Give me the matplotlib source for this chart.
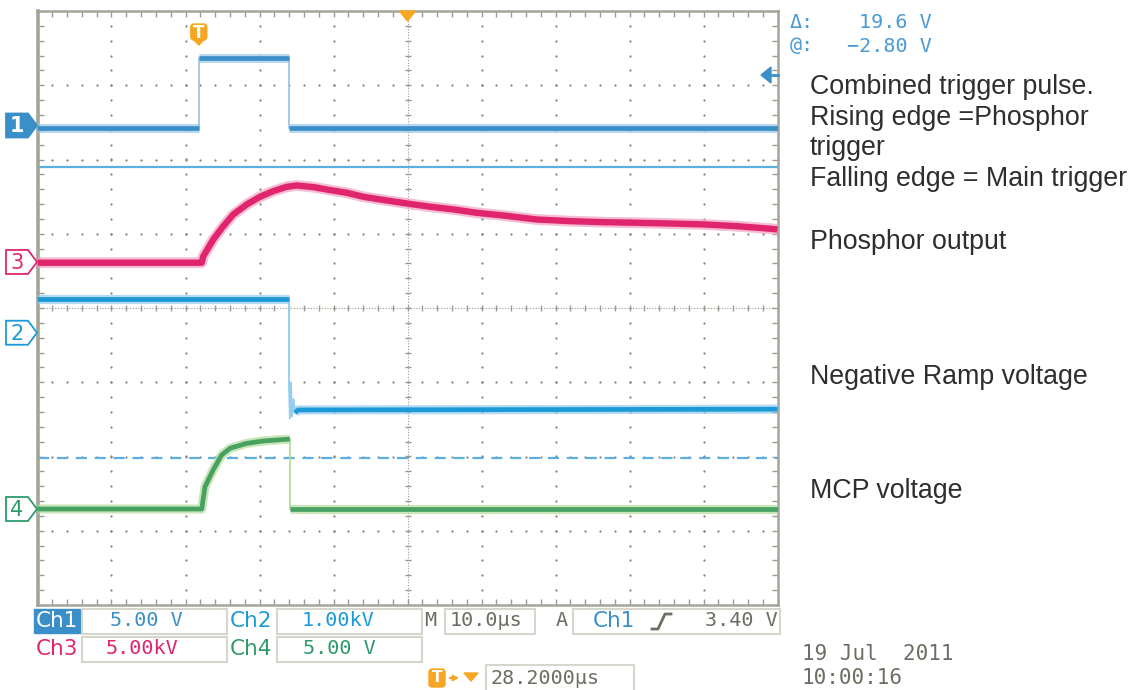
import numpy as np
import matplotlib
matplotlib.use("Agg")
import matplotlib.pyplot as plt
from matplotlib.patches import Polygon, Rectangle, FancyBboxPatch
from matplotlib.ticker import FixedLocator

# ---------------- acquisition settings ----------------
time_per_div = 10.0          # us / div
delay_us = 28.2              # trigger -> screen centre
trigger_level_v = 3.40       # Ch1 trigger level
cursor_delta_v = 19.6
cursor_at_v = -2.80

# channel scales (units per div) and ground positions (div from centre)
ch_scale = {"1": 5.0, "2": 1.0, "3": 5.0, "4": 5.0}
ch_pos = {"1": 2.458, "2": -0.333, "3": 0.620, "4": -2.707}

# ---------------- traces ----------------
# Ch1: combined trigger pulse (V)
ch1_t = [-21.8, 0.0, 0.0, 12.2, 12.2, 78.2]
ch1_v = [-0.2, -0.2, 4.52, 4.52, -0.2, -0.2]

# Ch2: negative ramp voltage (kV)
ch2_t = [-21.8, 12.2, 12.2, 12.3, 12.45, 12.6, 12.8, 13.0, 13.4, 78.2]
ch2_v = [0.45, 0.45, -0.75, -1.15, -0.68, -1.12, -0.90, -1.08, -1.04, -1.03]

# Ch3: phosphor output (kV)
ch3_t = [-21.8, 0.39, 0.61, 1.96, 3.31, 4.66, 6.47, 8.27, 10.06, 11.88, 13.23,
         15.47, 17.73, 19.98, 22.23, 24.48, 28.09, 31.24, 34.39, 37.55, 41.15,
         45.66, 50.16, 54.66, 59.17, 63.66, 68.17, 72.69, 77.19, 78.2]
ch3_v = [-0.05, -0.05, 0.39, 1.52, 2.41, 3.20, 3.87, 4.39, 4.77, 5.06, 5.15,
         5.04, 4.84, 4.66, 4.39, 4.21, 3.94, 3.72, 3.54, 3.31, 3.13,
         2.86, 2.75, 2.68, 2.64, 2.59, 2.53, 2.41, 2.24, 2.19]

# Ch4: MCP voltage (V)
ch4_t = [-21.8, 0.39, 0.84, 1.96, 3.09, 4.22, 6.47, 8.71, 12.3, 12.3, 78.2]
ch4_v = [0.0, 0.0, 1.50, 2.65, 3.64, 4.09, 4.42, 4.58, 4.71, 0.0, 0.0]

notes = [
    ("Combined trigger pulse.", 94),
    ("Rising edge =Phosphor", 125),
    ("trigger", 155),
    ("Falling edge = Main trigger", 186),
    ("Phosphor output", 249),
    ("Negative Ramp voltage", 384),
    ("MCP voltage", 498),
]

# ---------------- colours ----------------
C1, C1H = "#3b8fc8", "#9cc6e6"
C2, C2H = "#1c9ad8", "#92cdee"
C3, C3H = "#e0256e", "#f2a3c2"
C4, C4H = "#47a262", "#b4dc9c"
C4T = "#2e9a6c"
GRID = "#85857b"
UI = "#6d6d62"
CUR = "#5aaee0"
ORANGE = "#f6a623"

W, H = 1133, 690
fig = plt.figure(figsize=(W / 100, H / 100), dpi=100)

# screen geometry (pixels)
L, R, T, B = 37.5, 777.5, 11.0, 605.0
PX_US = (R - L) / (10 * time_per_div)
PX_DIV = (B - T) / 8.0
x0 = delay_us - 5 * time_per_div
x1 = delay_us + 5 * time_per_div

ax = fig.add_axes([L / W, 1 - B / H, (R - L) / W, (B - T) / H])
ax.set_xlim(x0, x1)
ax.set_ylim(-4, 4)
for s in ax.spines.values():
    s.set_color("#a4a498")
    s.set_linewidth(1.8)
ax.spines["left"].set_linewidth(2.6)
ax.xaxis.set_major_locator(FixedLocator(x0 + np.arange(0, 11) * time_per_div))
ax.xaxis.set_minor_locator(FixedLocator(x0 + np.arange(0, 50.5) * time_per_div / 5))
ax.yaxis.set_major_locator(FixedLocator(np.arange(-4, 5)))
ax.yaxis.set_minor_locator(FixedLocator(np.arange(-4, 4.01, 0.2)))
ax.tick_params(which="both", direction="in", top=True, right=True, length=4,
               width=1, color="#9a9a90", labelbottom=False, labelleft=False)

# graticule dots
gy = np.arange(-4, 4.01, 0.2)[1:-1]
gx = x0 + np.arange(0, 10.01, 0.2)[1:-1] * time_per_div
for i in range(1, 10):
    if i == 5:
        continue
    ax.scatter(np.full_like(gy, x0 + i * time_per_div), gy, s=2.6, color=GRID, lw=0, zorder=1)
for j in range(-3, 4):
    if j == 0:
        continue
    ax.scatter(gx, np.full_like(gx, j), s=2.6, color=GRID, lw=0, zorder=1)
# centre cross
ax.axvline(delay_us, color="#9a9a90", lw=0.8, ls=(0, (1, 1.5)), zorder=1)
ax.axhline(0, color="#9a9a90", lw=0.8, ls=(0, (1, 1.5)), zorder=1)
ax.plot(np.full_like(gy, delay_us), gy, ls="none", marker="_", ms=5, mew=1, color="#9a9a90", zorder=1)
ax.plot(gx, np.zeros_like(gx), ls="none", marker="|", ms=5, mew=1, color="#9a9a90", zorder=1)

# cursors (Ch1 units)
cur_a = ch_pos["1"] + cursor_at_v / ch_scale["1"]
cur_b = ch_pos["1"] + (cursor_at_v - cursor_delta_v) / ch_scale["1"]
ax.axhline(cur_a, color=CUR, lw=1.6, zorder=2)
ax.axhline(cur_b, color=CUR, lw=1.6, ls=(0, (5, 3.5)), zorder=2)


def draw_trace(t, v, ch, core, halo, lw):
    t = np.asarray(t, float)
    y = ch_pos[ch] + np.asarray(v, float) / ch_scale[ch]
    dx = np.abs(np.diff(t)) * PX_US
    dy = np.abs(np.diff(y)) * PX_DIV
    steep = dy > 8 * np.maximum(dx, 1e-6)

    def run(a, b):
        ax.plot(t[a:b], y[a:b], color=halo, lw=lw + 3.2, alpha=0.7,
                solid_capstyle="butt", solid_joinstyle="round", zorder=3)
        ax.plot(t[a:b], y[a:b], color=core, lw=lw,
                solid_capstyle="butt", solid_joinstyle="round", zorder=4)

    start = 0
    for i, st in enumerate(steep):
        if st:
            if i > start:
                run(start, i + 1)
            ax.plot(t[i:i + 2], y[i:i + 2], color=halo, lw=1.3, zorder=3)
            start = i + 1
    if start < len(t) - 1:
        run(start, len(t))


draw_trace(ch1_t, ch1_v, "1", C1, C1H, 3.4)
draw_trace(ch3_t, ch3_v, "3", C3, C3H, 4.6)
draw_trace(ch2_t, ch2_v, "2", C2, C2H, 3.4)
draw_trace(ch4_t, ch4_v, "4", C4, C4H, 3.4)

# ---------------- overlay (pixel coordinates) ----------------
ov = fig.add_axes([0, 0, 1, 1], zorder=5)
ov.set_xlim(0, W)
ov.set_ylim(H, 0)
ov.axis("off")
ov.patch.set_alpha(0)


def ypx(div):
    return T + (4 - div) * PX_DIV


def xpx(t):
    return L + (t - x0) * PX_US


# channel ground markers
for ch, col, filled in [("1", C1, True), ("3", C3, False), ("2", C2, False), ("4", C4T, False)]:
    yc = ypx(ch_pos[ch])
    pts = [(6, yc - 12), (28, yc - 12), (37, yc), (28, yc + 12), (6, yc + 12)]
    ov.add_patch(Polygon(pts, closed=True, facecolor=col if filled else "white",
                         edgecolor=col, lw=1.3))
    ov.text(17, yc + 1, ch, color="white" if filled else col, fontsize=15,
            fontweight="bold" if filled else "normal", ha="center", va="center",
            family="DejaVu Sans")

# trigger point badge
tx = xpx(0.0)
ov.add_patch(FancyBboxPatch((tx - 8, 24), 16, 16, boxstyle="round,pad=0,rounding_size=3",
                            facecolor=ORANGE, edgecolor=ORANGE))
ov.add_patch(Polygon([(tx - 5, 40), (tx + 5, 40), (tx, 45)], facecolor=ORANGE, edgecolor=ORANGE))
ov.text(tx, 32.5, "T", color="white", fontsize=12, fontweight="bold", ha="center", va="center")
# horizontal position marker
cx = xpx(delay_us)
ov.add_patch(Polygon([(cx - 8, 11), (cx + 8, 11), (cx, 21)], facecolor=ORANGE, edgecolor=ORANGE))
# trigger level arrow
ty = ypx(ch_pos["1"] + trigger_level_v / ch_scale["1"])
ov.add_patch(Polygon([(761, ty), (771, ty - 8), (771, ty + 8)], facecolor=C1, edgecolor=C1))
ov.plot([770, 778], [ty, ty], color=C1, lw=2)

# annotations
for s, yb in notes:
    ov.text(810, yb, s, fontsize=19.3, color="#2e2e2e", family="Liberation Sans",
            ha="left", va="baseline")

MONO = "DejaVu Sans Mono"
SANS = "DejaVu Sans"
ov.text(790, 22, "Δ:", color="#4a9ad4", fontsize=14.5, family=MONO, va="center")
ov.text(932, 22, f"{cursor_delta_v:.1f} V", color="#4a9ad4", fontsize=14.5, family=MONO, va="center", ha="right")
ov.text(790, 46, "@:", color="#4a9ad4", fontsize=14.5, family=MONO, va="center")
ov.text(932, 46, f"\u2212{abs(cursor_at_v):.2f} V", color="#4a9ad4", fontsize=14.5, family=MONO, va="center", ha="right")


def box(x, y, w, h):
    ov.add_patch(Rectangle((x, y), w, h, facecolor="white", edgecolor="#d6d6ce", lw=1.5))


# readout panel
ov.add_patch(Rectangle((34, 609), 46, 24, facecolor=C1, edgecolor=C1))
ov.text(36, 621, "Ch1", color="white", fontsize=15.5, family=SANS, va="center")
box(82, 609, 145, 25)
ov.text(110, 621, "5.00 V", color=C1, fontsize=14.5, family=MONO, va="center")
ov.text(230, 621, "Ch2", color=C2, fontsize=15.5, family=SANS, va="center")
box(277, 609, 145, 25)
ov.text(302, 621, "1.00kV", color=C2, fontsize=14.5, family=MONO, va="center")
ov.text(424, 621, "M", color=UI, fontsize=14.5, family=MONO, va="center")
box(445, 609, 90, 25)
ov.text(450, 621, "10.0µs", color=UI, fontsize=14.5, family=MONO, va="center")
ov.text(556, 621, "A", color=UI, fontsize=14.5, family=MONO, va="center")
box(573, 609, 207, 25)
ov.text(593, 621, "Ch1", color=C1, fontsize=15.5, family=SANS, va="center")
ov.plot([652, 658, 665, 671], [629, 629, 614, 614], color=UI, lw=2)
ov.text(778, 621, f"{trigger_level_v:.2f} V", color=UI, fontsize=14.5, family=MONO, va="center", ha="right")

ov.text(36, 649, "Ch3", color=C3, fontsize=15.5, family=SANS, va="center")
box(82, 637, 145, 25)
ov.text(106, 649, "5.00kV", color=C3, fontsize=14.5, family=MONO, va="center")
ov.text(230, 649, "Ch4", color=C4T, fontsize=15.5, family=SANS, va="center")
box(277, 637, 145, 25)
ov.text(303, 649, "5.00 V", color=C4T, fontsize=14.5, family=MONO, va="center")

# delay readout
ov.add_patch(FancyBboxPatch((429, 669), 16, 18, boxstyle="round,pad=0,rounding_size=3",
                            facecolor=ORANGE, edgecolor=ORANGE))
ov.text(437, 678, "T", color="white", fontsize=11, fontweight="bold", ha="center", va="center")
ov.annotate("", xy=(462, 678), xytext=(447, 678),
            arrowprops=dict(arrowstyle="-|>", color=ORANGE, lw=1.5, mutation_scale=8))
ov.add_patch(Polygon([(464, 673), (478, 673), (471, 681)], facecolor=ORANGE, edgecolor=ORANGE))
box(486, 665, 148, 27)
ov.text(490, 678, f"{delay_us:.4f}µs", color=UI, fontsize=14.5, family=MONO, va="center")

ov.text(802, 654, "19 Jul  2011", color=UI, fontsize=15, family=MONO, va="center")
ov.text(802, 678, "10:00:16", color=UI, fontsize=15, family=MONO, va="center")

fig.savefig("out.png", dpi=100)
